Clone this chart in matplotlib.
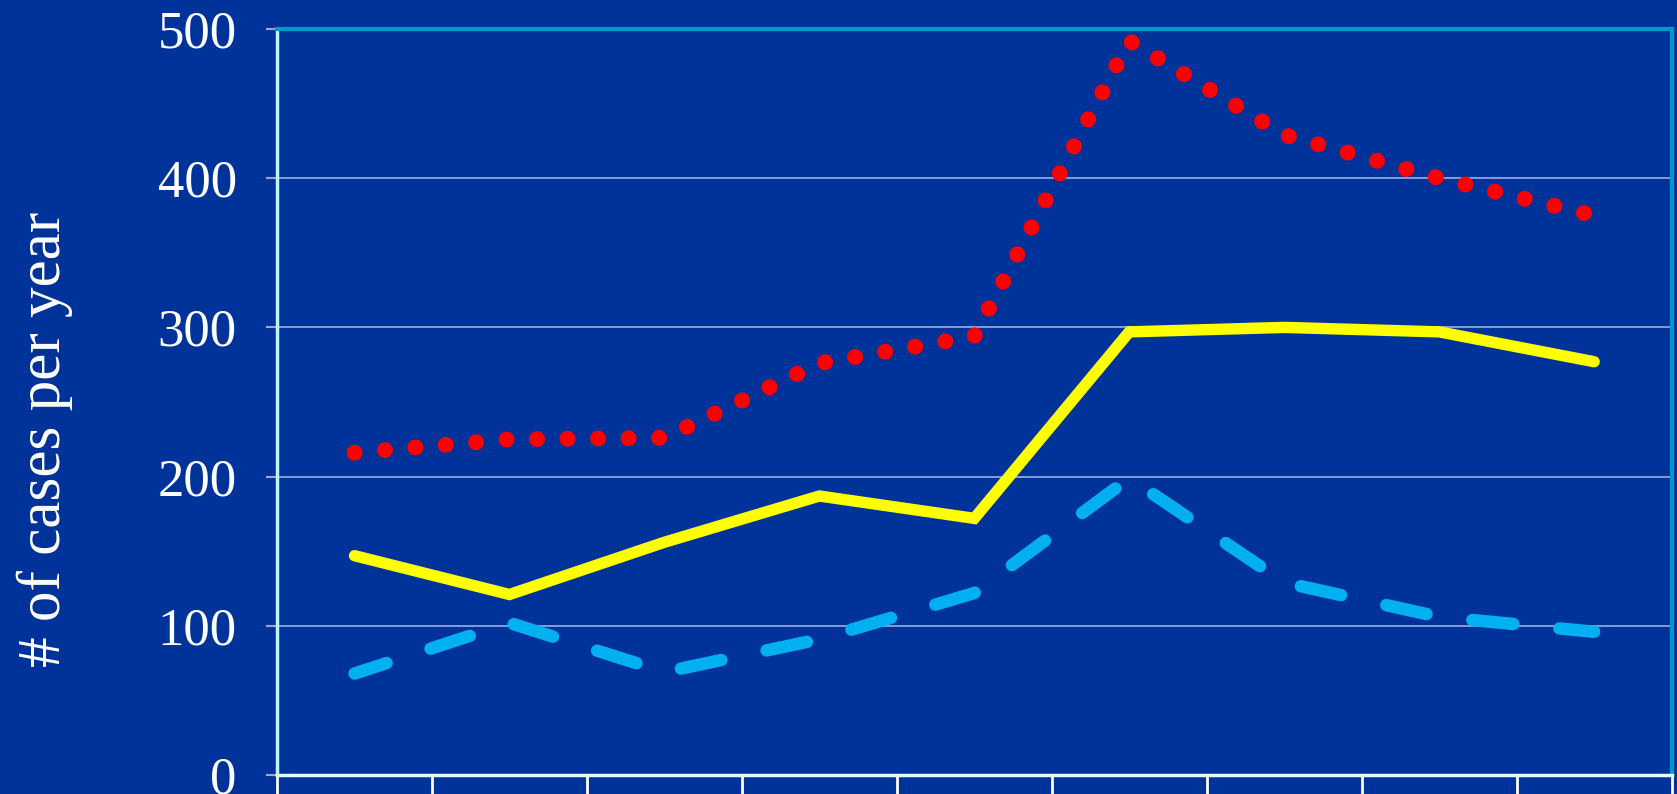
import matplotlib.pyplot as plt
import numpy as np

# data (9 categories, labels cut off below the axis)
categories  = np.arange(9)
yellow_vals = [147, 121, 156, 187, 172, 297, 300, 297, 277]
blue_vals   = [68, 102, 69, 91, 122, 199, 129, 106, 96]
red_vals    = [216, 225, 226, 276, 294, 492, 429, 400, 375]
y_ticks     = [0, 100, 200, 300, 400, 500]

BG = "#003399"

plt.rcParams["font.family"] = ["Liberation Serif", "DejaVu Serif"]

fig = plt.figure(figsize=(16.77, 7.94), dpi=100)
fig.patch.set_facecolor(BG)
ax = fig.add_axes([0.1652, 0.0239, 0.8316, 0.9396])
ax.set_facecolor(BG)

# --- lines ---
ax.plot(categories, red_vals, color="#FF0000", linewidth=11.5,
        linestyle=(0, (0.01, 1.9)), dash_capstyle="round", zorder=3)
ax.plot(categories, yellow_vals, color="#FFFF00", linewidth=8.2,
        solid_capstyle="round", solid_joinstyle="miter", zorder=4)
ax.plot(categories, blue_vals, color="#00B0F0", linewidth=9,
        linestyle=(0.6, (3.3, 3.7)), dash_capstyle="round", zorder=3)

# --- axes ---
ax.set_xlim(-0.5, 8.5)
ax.set_ylim(0, 500)
ax.set_yticks(y_ticks)
ax.set_yticklabels([str(v) for v in y_ticks], color="white", fontsize=38)
ax.set_xticks(np.arange(-0.5, 9.0, 1.0))
ax.set_xticklabels([])
ax.tick_params(axis="x", direction="out", length=20, width=2, color="white")
ax.tick_params(axis="y", direction="out", length=8, width=1.5, color="#A0A8C8", pad=21)

ax.grid(axis="y", color="#C8D2EC", linewidth=1.1, alpha=0.85)
ax.set_axisbelow(True)

ax.spines["left"].set_color("#BDF2FF")
ax.spines["left"].set_linewidth(2.5)
ax.spines["bottom"].set_color("#E6FAFF")
ax.spines["bottom"].set_linewidth(2.5)
for s in ("top", "right"):
    ax.spines[s].set_color("#0099CC")
    ax.spines[s].set_linewidth(3)

ax.set_ylabel("# of cases per year", color="white", fontsize=44)
ax.yaxis.set_label_coords(-0.146, 0.45)

fig.savefig("out.png", dpi=100, facecolor=BG)
